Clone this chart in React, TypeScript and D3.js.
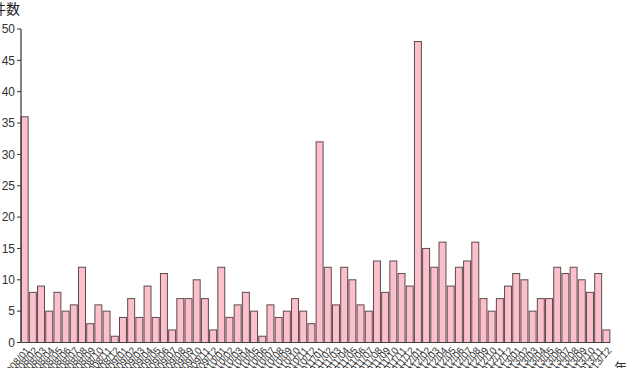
import React from "react";
import * as d3 from "d3";

const years = ["2008", "2009", "2010", "2011", "2012", "2013"];
const months = ["01", "02", "03", "04", "05", "06", "07", "08", "09", "10", "11", "12"];
const categories: string[] = years.flatMap((y) => months.map((m) => `${y}/${m}`));
const values: number[] = [
  36, 8, 9, 5, 8, 5, 6, 12, 3, 6, 5, 1,
  4, 7, 4, 9, 4, 11, 2, 7, 7, 10, 7, 2,
  12, 4, 6, 8, 5, 1, 6, 4, 5, 7, 5, 3,
  32, 12, 6, 12, 10, 6, 5, 13, 8, 13, 11, 9,
  48, 15, 12, 16, 9, 12, 13, 16, 7, 5, 7, 9,
  11, 10, 5, 7, 7, 12, 11, 12, 10, 8, 11, 2,
];
const yTicks = [0, 5, 10, 15, 20, 25, 30, 35, 40, 45, 50];
const yTitle = "件数";
const xTitle = "年月";

const W = 627;
const H = 368;
const left = 21;
const right = 610;
const top = 29;
const bottom = 342.5;

export default function App() {
  const x = d3.scaleBand<string>().domain(categories).range([left, right]).paddingInner(0.15).paddingOuter(0.02);
  const y = d3.scaleLinear().domain([0, 50]).range([bottom, top]);
  const font = "'Liberation Sans', Arial, sans-serif";
  return (
    <svg width={W} height={H} style={{ position: "absolute", left: 0, top: 0, background: "#fff" }}>
      <text x={-8} y={14} fontSize={14} fill="#222" fontFamily="'Noto Sans CJK JP', sans-serif">{yTitle}</text>
      {values.map((v, i) => (
        <rect
          key={i}
          x={x(categories[i])!}
          y={y(v)}
          width={x.bandwidth()}
          height={bottom - y(v)}
          fill="#fcc0cc"
          stroke="#5e4a4c"
          strokeWidth={1}
        />
      ))}
      <line x1={left} x2={left} y1={y(50)} y2={bottom} stroke="#333" strokeWidth={1.2} />
      <line x1={left} x2={right} y1={bottom} y2={bottom} stroke="#444" strokeWidth={1.2} />
      {yTicks.map((t) => (
        <g key={t}>
          <line x1={left - 4} x2={left} y1={y(t)} y2={y(t)} stroke="#333" />
          <text x={15} y={y(t)} dy="0.35em" textAnchor="end" fontSize={12} fill="#333" fontFamily={font}>
            {t}
          </text>
        </g>
      ))}
      {categories.map((c) => {
        const cx = x(c)! + x.bandwidth() / 2 + 3;
        const cy = bottom + 6;
        return (
          <text
            key={c}
            x={cx}
            y={cy}
            transform={`rotate(-50 ${cx} ${cy})`}
            textAnchor="end"
            fontSize={10}
            fill="#333"
            fontFamily={font}
            dy="0.35em"
          >
            {c}
          </text>
        );
      })}
      <text x={614} y={372} fontSize={13} fill="#333" fontFamily="'Noto Sans CJK JP', sans-serif">{xTitle}</text>
    </svg>
  );
}
